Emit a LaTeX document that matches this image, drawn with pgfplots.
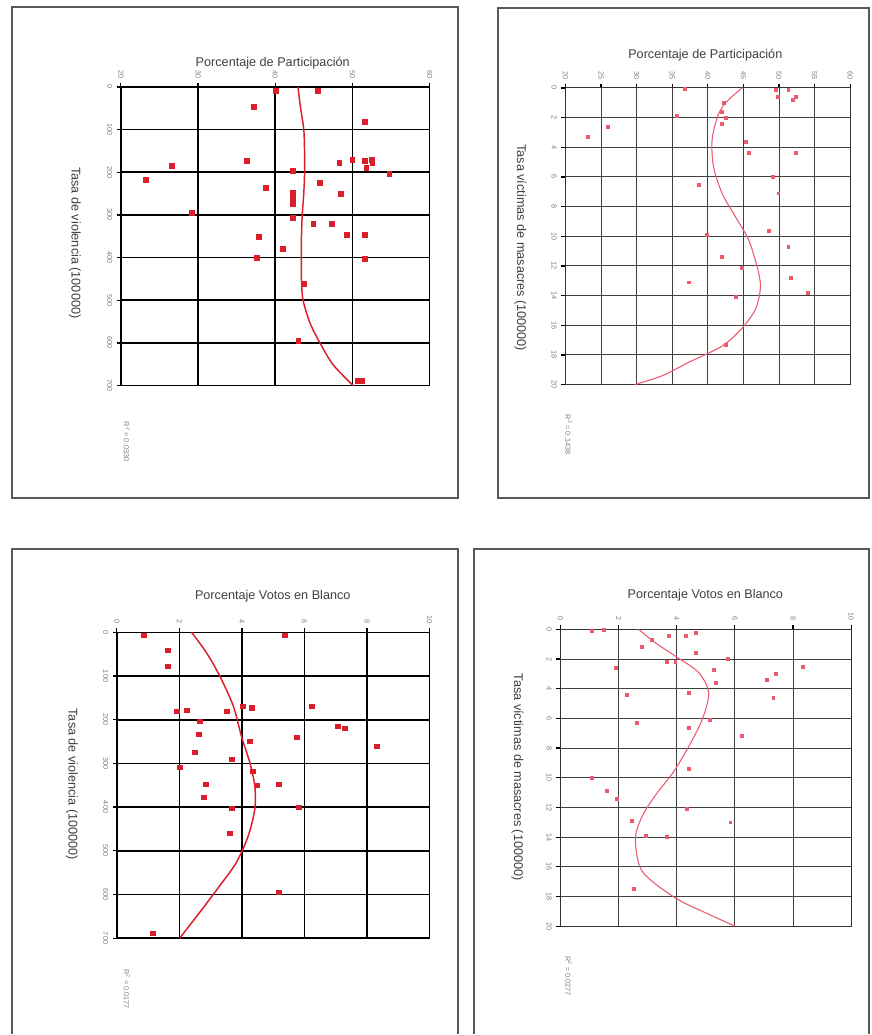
\documentclass[border=0pt]{standalone}
\usepackage{fontspec}
\setmainfont{Liberation Sans}
\usepackage{pgfplots}
\pgfplotsset{compat=1.18}
\definecolor{ptred}{RGB}{220,30,40}
\definecolor{ptpink}{RGB}{235,90,110}
\pgfplotsset{
  rotplot/.style={
    scale only axis, anchor=north west, y dir=reverse,
    enlargelimits=false, clip=false,
    xticklabel pos=upper, xtick pos=right, ytick pos=left,
    /pgf/number format/assume math mode=true,
    tick label style={font=\fontsize{5.5}{6}\selectfont, text=gray},
    xticklabel style={rotate=-90, anchor=east, xshift=0pt},
    yticklabel style={rotate=-90, anchor=north},
    tick align=outside, major tick length=3pt,
    tick style={black, line width=0.9pt},
    grid=major,
  },
  heavy/.style={axis line style={black, line width=1.3pt},
    major grid style={black, line width=1.2pt}},
  light/.style={axis line style={black!80, line width=0.8pt},
    major grid style={black!75, line width=0.7pt}},
}
\begin{document}
\begin{tikzpicture}
\fill[white] (0,0) rectangle (654pt,-776.25pt);
% frames
\draw[black!65, line width=1.5pt] (9pt,-5.25pt) rectangle (343.5pt,-373.5pt);
\draw[black!65, line width=1.5pt] (373.5pt,-6pt) rectangle (652.5pt,-373.5pt);
\draw[black!65, line width=1.5pt] (9pt,-776.25pt) -- (9pt,-412.5pt) -- (343.5pt,-412.5pt) -- (343.5pt,-776.25pt);
\draw[black!65, line width=1.5pt] (355.5pt,-776.25pt) -- (355.5pt,-412.5pt) -- (652.5pt,-412.5pt) -- (652.5pt,-776.25pt);

% titles and labels
\begin{scope}[every node/.style={text=black!75, font=\fontsize{9.5}{11}\selectfont}]
\node at (204.75pt,-47.25pt) {Porcentaje de Participación};
\node at (529.5pt,-41.25pt) {Porcentaje de Participación};
\node at (204.75pt,-447.75pt) {Porcentaje Votos en Blanco};
\node at (529.5pt,-447pt) {Porcentaje Votos en Blanco};
\node[rotate=-90] at (56.25pt,-182.25pt) {Tasa de violencia (100000)};
\node[rotate=-90] at (390.75pt,-186pt) {Tasa víctimas de masacres (100000)};
\node[rotate=-90] at (54pt,-588.75pt) {Tasa de violencia (100000)};
\node[rotate=-90] at (388.5pt,-583.5pt) {Tasa víctimas de masacres (100000)};
\end{scope}
\begin{scope}[every node/.style={text=gray, font=\fontsize{5.5}{6}\selectfont, rotate=-90}]
\node at (95.25pt,-331.5pt) {R\textsuperscript{2} = 0.0330};
\node at (426.75pt,-326.25pt) {R\textsuperscript{2} = 0.1438};
\node at (95.25pt,-742.5pt) {R\textsuperscript{2} = 0.0177};
\node at (426.75pt,-732.75pt) {R\textsuperscript{2} = 0.0277};
\end{scope}

% ---------- top left ----------
\begin{axis}[rotplot, heavy, at={(90.75pt,-65.25pt)}, width=231.75pt, height=224.25pt,
  xmin=20, xmax=60, ymin=0, ymax=700, xtick={20,30,40,50,60}, ytick={0,100,...,700}]
\addplot[ptred, line width=1.1pt, smooth] coordinates {
(42.95,0) (43.26,46) (43.7,100) (43.8,155) (43.8,202) (43.7,249) (43.5,300) (43.4,350)
(43.4,397) (43.4,452) (43.6,499) (44.5,553) (45.8,600) (47.5,651) (50.1,700)};
\addplot[only marks, mark=square*, mark size=1.7pt, ptred] coordinates {
(40.1,9) (45.5,9) (37.2,47) (51.6,82) (36.3,173) (26.6,185) (23.2,218) (42.3,197)
(48.3,178) (50.0,171) (51.6,173) (52.5,171) (51.8,190) (52.6,178) (54.8,204) (45.8,225)
(48.5,251) (38.8,236) (42.3,248) (42.3,260) (42.3,274) (29.2,295) (42.3,307) (44.9,321)
(47.3,321) (49.3,347) (51.6,347) (37.9,351) (41.0,379) (37.6,400) (51.6,403) (43.7,461)
(43.0,595) (50.7,688) (51.2,688)};
\end{axis}

% ---------- top right ----------
\begin{axis}[rotplot, light, at={(424.5pt,-66pt)}, width=213.75pt, height=222.75pt,
  xmin=20, xmax=60, ymin=0, ymax=20, xtick={20,25,...,60}, ytick={0,2,...,20}]
\addplot[ptpink, line width=0.8pt, smooth] coordinates {
(44.8,0) (42.5,1.0) (41.4,1.9) (40.6,3.5) (40.8,5.3) (42.0,7.1) (43.9,8.7) (45.7,10.2)
(46.9,12.0) (47.4,13.4) (46.7,14.9) (44.8,16.2) (42.0,17.4) (37.3,18.5) (33.6,19.4) (29.7,20.0)};
\addplot[only marks, mark=square*, mark size=1.1pt, ptpink] coordinates {
(36.8,0.07) (49.5,0.1) (51.3,0.1) (52.3,0.6) (49.8,0.6) (51.9,0.8) (42.2,1.0) (42.0,1.6)
(42.5,2.0) (41.9,2.4) (35.7,1.9) (26.0,2.6) (23.1,3.3) (45.3,3.6) (45.7,4.4) (52.3,4.4)
(49.1,6.0) (49.9,7.1) (38.7,6.5) (48.5,9.6) (39.9,9.9) (51.3,10.7) (42.0,11.4) (44.8,12.1)
(51.6,12.8) (37.3,13.1) (43.9,14.1) (54.1,13.8) (42.5,17.3)};
\end{axis}

% ---------- bottom left ----------
\begin{axis}[rotplot, heavy, at={(87.75pt,-474.75pt)}, width=234.75pt, height=229.5pt,
  xmin=0, xmax=10, ymin=0, ymax=700, xtick={0,2,...,10}, ytick={0,100,...,700}]
\addplot[ptred, line width=1.1pt, smooth] coordinates {
(2.39,0) (2.87,47) (3.29,100) (3.72,168) (3.98,237) (4.25,298) (4.41,352) (4.41,405)
(4.20,466) (3.82,527) (3.29,580) (2.65,641) (2.01,700)};
\addplot[only marks, mark=square*, mark size=1.7pt, ptred] coordinates {
(0.86,7) (5.37,7) (1.63,41) (1.63,78) (6.23,169) (1.92,181) (2.24,178) (2.65,204)
(3.51,181) (4.03,169) (4.31,172) (7.06,215) (7.28,220) (5.75,240) (8.31,261) (4.25,249)
(2.62,233) (2.49,275) (2.01,309) (3.67,291) (4.35,318) (4.47,350) (5.18,348) (2.84,348)
(2.78,378) (3.67,403) (5.81,400) (3.61,460) (5.18,595) (1.15,689)};
\end{axis}

% ---------- bottom right ----------
\begin{axis}[rotplot, light, at={(420.75pt,-472.5pt)}, width=218.25pt, height=222.75pt,
  xmin=0, xmax=10, ymin=0, ymax=20, xtick={0,2,...,10}, ytick={0,2,...,20}]
\addplot[ptpink, line width=0.8pt, smooth] coordinates {
(2.69,0) (3.26,0.9) (3.95,1.8) (4.75,2.9) (5.10,4.3) (4.87,6.1) (4.41,7.9) (3.89,9.6)
(3.26,11.2) (2.81,12.6) (2.58,14.1) (2.81,16.3) (3.95,18.1) (5.10,19.2) (6.0,20.0)};
\addplot[only marks, mark=square*, mark size=1.1pt, ptpink] coordinates {
(1.09,0.07) (1.48,0.05) (3.15,0.67) (2.81,1.2) (3.72,0.45) (4.30,0.45) (4.64,0.2) (4.64,1.55)
(3.67,2.2) (3.95,2.2) (5.77,2.0) (1.89,2.6) (5.26,2.7) (5.33,3.6) (7.10,3.4) (7.39,3.0)
(7.32,4.6) (8.35,2.5) (2.29,4.4) (4.41,4.3) (2.63,6.3) (4.41,6.6) (5.15,6.1) (6.24,7.2)
(4.41,9.4) (1.09,10.0) (1.60,10.9) (1.95,11.4) (4.35,12.1) (2.46,12.9) (5.84,13.0) (2.92,13.9)
(3.67,14.0) (2.52,17.5)};
\end{axis}
\end{tikzpicture}
\end{document}
